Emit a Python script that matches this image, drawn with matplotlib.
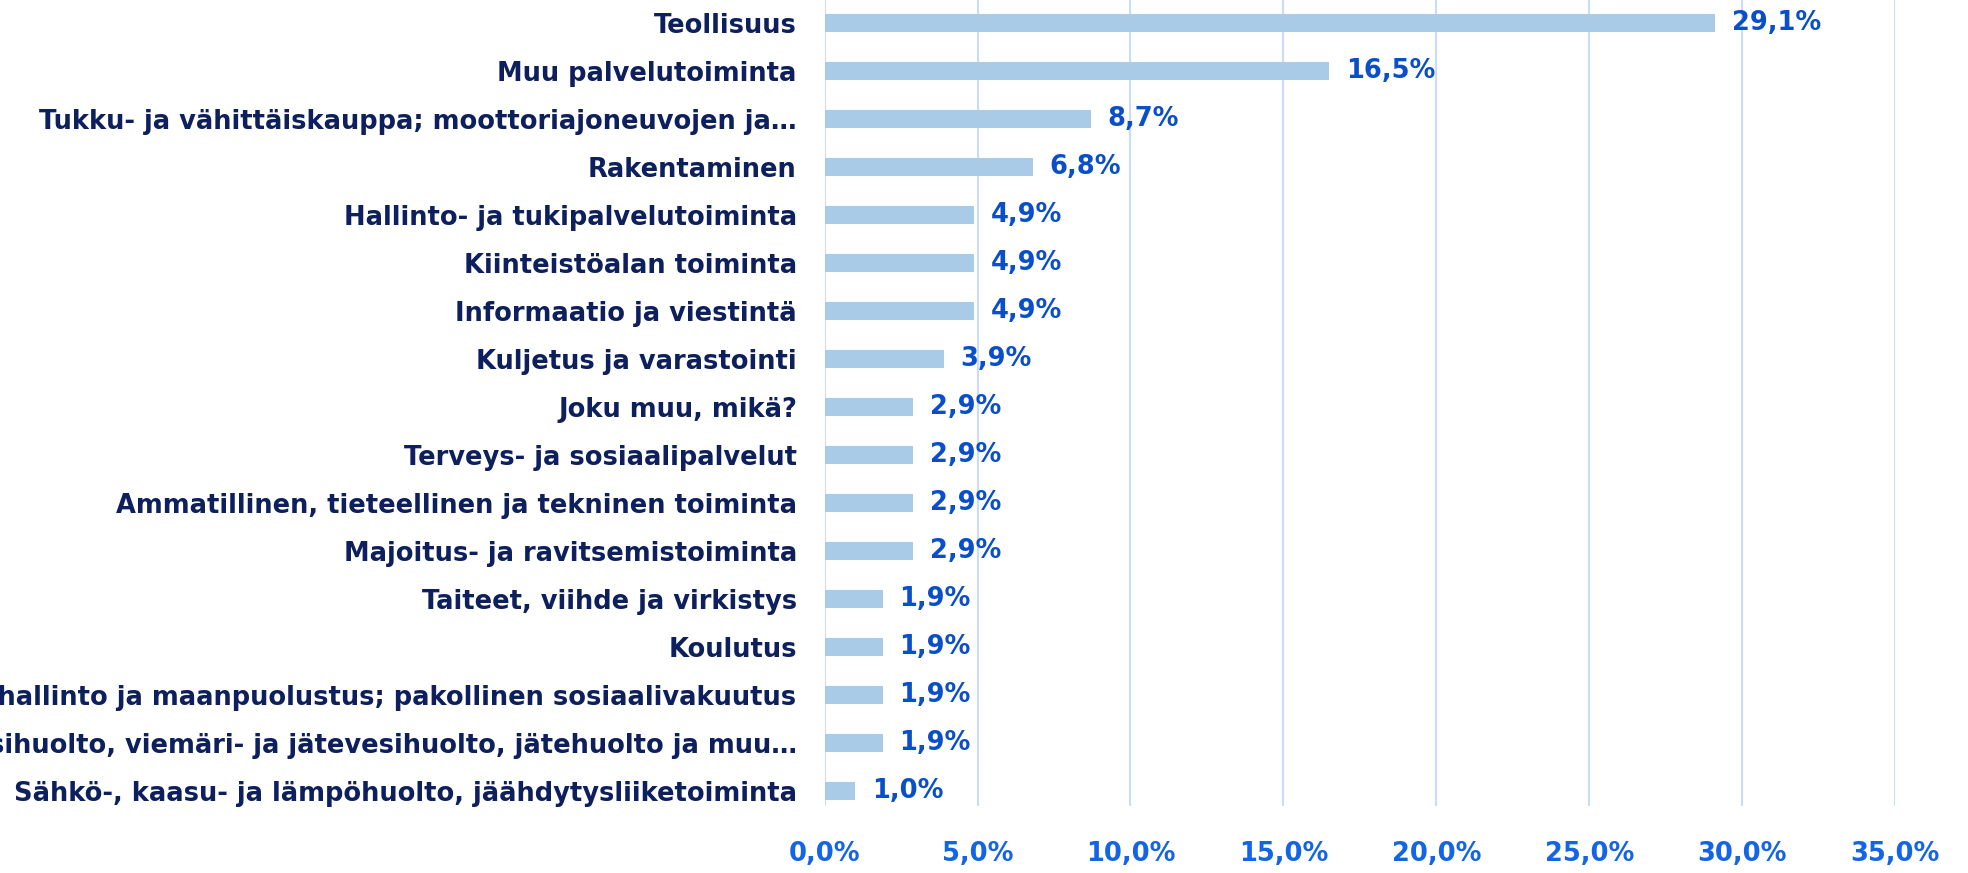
import matplotlib.pyplot as plt
from matplotlib.ticker import FuncFormatter

# toimialat ja osuudet (%)
categories = [
    "Teollisuus",
    "Muu palvelutoiminta",
    "Tukku- ja vähittäiskauppa; moottoriajoneuvojen ja…",
    "Rakentaminen",
    "Hallinto- ja tukipalvelutoiminta",
    "Kiinteistöalan toiminta",
    "Informaatio ja viestintä",
    "Kuljetus ja varastointi",
    "Joku muu, mikä?",
    "Terveys- ja sosiaalipalvelut",
    "Ammatillinen, tieteellinen ja tekninen toiminta",
    "Majoitus- ja ravitsemistoiminta",
    "Taiteet, viihde ja virkistys",
    "Koulutus",
    "Julkinen hallinto ja maanpuolustus; pakollinen sosiaalivakuutus",
    "Vesihuolto, viemäri- ja jätevesihuolto, jätehuolto ja muu…",
    "Sähkö-, kaasu- ja lämpöhuolto, jäähdytysliiketoiminta",
]
values = [29.1, 16.5, 8.7, 6.8, 4.9, 4.9, 4.9, 3.9, 2.9, 2.9, 2.9, 2.9, 1.9, 1.9, 1.9, 1.9, 1.0]
xticks = [0, 5, 10, 15, 20, 25, 30, 35]

bar_color = "#a9cbe8"
label_color = "#0d1f5c"
value_color = "#0a4fc9"
tick_color = "#1464e6"
grid_color = "#c9dcfa"

plt.rcParams['font.family'] = ['DejaVu Sans']
fs = 18.5

fig = plt.figure(figsize=(19.68, 8.73), dpi=100)
ax = fig.add_axes([0.419, 0.0767, 0.544, 0.9233])

pos = list(range(len(categories)))
ax.barh(pos, values, height=0.375, color=bar_color, zorder=3)

for p, v in zip(pos, values):
    txt = f"{v:.1f}%".replace(".", ",")
    ax.text(v + 0.55, p, txt, va="center", ha="left", color=value_color,
            fontsize=fs, fontweight="bold", zorder=4)

ax.set_xlim(0, 35)
ax.set_ylim(16.31, -0.47)
ax.set_xticks(xticks)
ax.xaxis.set_major_formatter(FuncFormatter(lambda x, _: f"{x:.1f}%".replace(".", ",")))
ax.set_yticks(pos)
ax.set_yticklabels(categories)

ax.grid(axis="x", color=grid_color, linewidth=1.5, zorder=0)
for s in ax.spines.values():
    s.set_visible(False)

ax.tick_params(axis="x", length=0, pad=25, labelcolor=tick_color, labelsize=fs)
ax.tick_params(axis="y", length=0, pad=20, labelcolor=label_color, labelsize=fs)
for lbl in ax.get_xticklabels() + ax.get_yticklabels():
    lbl.set_fontweight("bold")

fig.savefig("out.png", dpi=100)
